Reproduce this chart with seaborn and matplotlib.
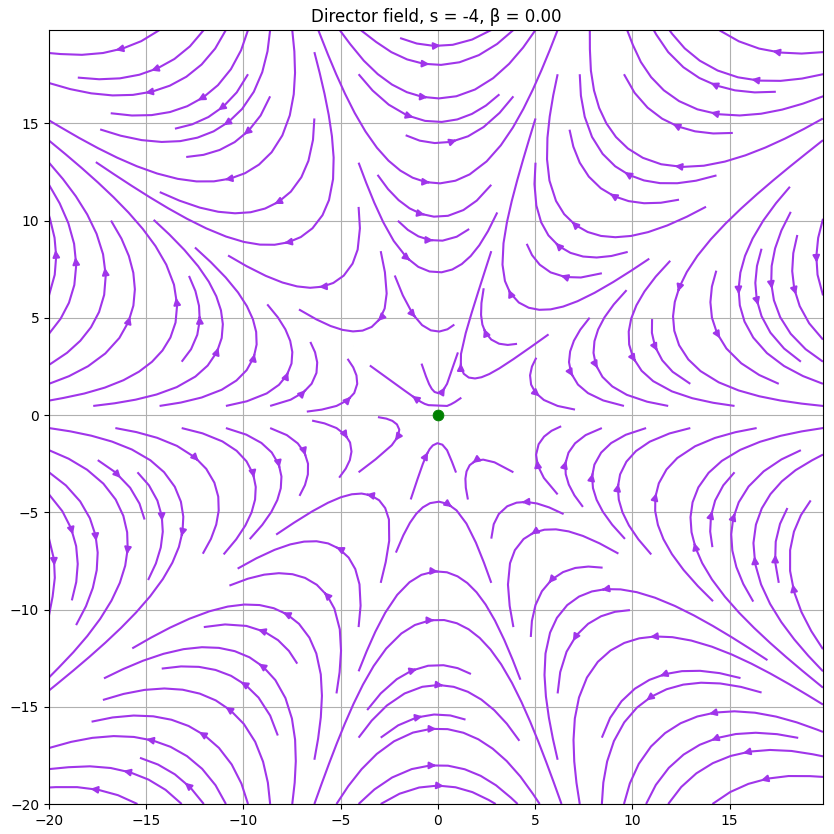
import numpy as np
import matplotlib
matplotlib.use("Agg")
import matplotlib.pyplot as plt
import seaborn as sns

# defect parameters
s = -4
beta = 0.0

# sampling grid for the field
grid_start = -20.0
grid_stop = 20.0
grid_step = 0.2

# defect core location
core_x = [0.0]
core_y = [0.0]

LINE_COLOR = "#a035ea"


def main():
    x = np.arange(grid_start, grid_stop, grid_step)
    y = np.arange(grid_start, grid_stop, grid_step)
    X, Y = np.meshgrid(x, y)
    phi = np.arctan2(Y, X)
    theta = s * phi + beta
    U = np.cos(theta)
    V = np.sin(theta)

    fig = plt.figure(figsize=(8.34, 8.34), dpi=100)
    ax = fig.add_axes([48 / 834, 30 / 834, 776 / 834, 774 / 834])
    ax.streamplot(X, Y, U, V, color=LINE_COLOR, linewidth=1.5, density=1.2)
    sns.scatterplot(x=core_x, y=core_y, color="green", s=60, ax=ax, zorder=5, edgecolor="green")

    ax.set_xlim(x.min(), x.max())
    ax.set_ylim(y.min(), y.max())
    ax.set_aspect("equal")
    ax.grid(True)
    ax.set_title(f"Director field, s = {s}, β = {beta:.2f}")

    fig.savefig("out.png", dpi=100)
    plt.close(fig)


if __name__ == "__main__":
    main()
